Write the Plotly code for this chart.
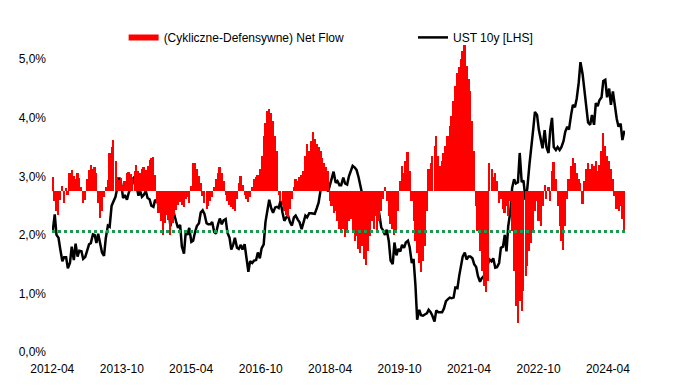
import pandas as pd
import plotly.graph_objects as go

# Semi-monthly observation dates (1st and 15th of each month)
DATES = pd.date_range("2012-03-15", "2024-10-01", freq="SMS")

# UST 10y yield, % (left axis)
UST_10Y = [
    # 2012 (from Mar 15)
    2.05, 2.35, 2.00, 1.95, 1.76, 1.55, 1.62, 1.62, 1.43, 1.52, 1.80, 1.57, 1.85, 1.63, 1.73, 1.72, 1.59, 1.62, 1.72,
    # 2013
    1.84, 1.86, 2.01, 2.00, 1.86, 2.02, 1.85, 1.70, 1.64, 1.94, 2.16, 2.14, 2.50, 2.56, 2.65, 2.80, 2.98, 2.88, 2.63, 2.68, 2.60, 2.72, 2.80, 2.88,
    # 2014
    3.00, 2.87, 2.67, 2.75, 2.65, 2.68, 2.75, 2.63, 2.61, 2.50, 2.48, 2.60, 2.56, 2.52, 2.50, 2.38, 2.38, 2.60, 2.42, 2.15, 2.33, 2.35, 2.22, 2.12,
    # 2015
    2.17, 1.80, 1.68, 2.05, 2.00, 2.12, 1.88, 1.90, 2.05, 2.15, 2.20, 2.38, 2.42, 2.36, 2.20, 2.18, 2.18, 2.22, 2.05, 2.02, 2.18, 2.28, 2.18, 2.25,
    # 2016
    2.27, 2.04, 1.95, 1.75, 1.83, 1.95, 1.78, 1.76, 1.83, 1.75, 1.84, 1.58, 1.37, 1.55, 1.52, 1.56, 1.57, 1.70, 1.60, 1.77, 1.84, 2.22, 2.45, 2.60,
    # 2017
    2.45, 2.38, 2.47, 2.48, 2.46, 2.58, 2.38, 2.24, 2.30, 2.33, 2.21, 2.16, 2.30, 2.33, 2.26, 2.22, 2.10, 2.20, 2.33, 2.30, 2.37, 2.37, 2.37, 2.36,
    # 2018
    2.46, 2.55, 2.78, 2.90, 2.86, 2.82, 2.74, 2.83, 2.97, 3.08, 2.89, 2.92, 2.85, 2.85, 2.98, 2.88, 2.86, 3.00, 3.08, 3.18, 3.15, 3.11, 2.99, 2.87,
    # 2019
    2.68, 2.71, 2.69, 2.66, 2.72, 2.60, 2.45, 2.56, 2.50, 2.38, 2.13, 2.08, 2.00, 2.09, 1.89, 1.56, 1.50, 1.87, 1.65, 1.76, 1.72, 1.83, 1.78, 1.87,
    # 2020
    1.90, 1.79, 1.52, 1.59, 1.15, 0.55, 0.72, 0.63, 0.62, 0.64, 0.66, 0.72, 0.68, 0.62, 0.52, 0.71, 0.68, 0.68, 0.68, 0.74, 0.87, 0.90, 0.93, 0.92,
    # 2021
    0.93, 1.10, 1.09, 1.30, 1.45, 1.63, 1.70, 1.58, 1.63, 1.63, 1.60, 1.50, 1.45, 1.30, 1.20, 1.26, 1.30, 1.30, 1.49, 1.58, 1.55, 1.60, 1.44, 1.45,
    # 2022
    1.52, 1.78, 1.80, 2.00, 1.72, 2.15, 2.40, 2.80, 2.95, 2.88, 2.90, 3.40, 2.90, 2.93, 2.60, 2.80, 3.20, 3.45, 3.80, 4.10, 4.05, 3.80, 3.60, 3.48,
    # 2023
    3.79, 3.50, 3.40, 3.80, 4.00, 3.50, 3.45, 3.50, 3.45, 3.50, 3.60, 3.76, 3.85, 3.80, 4.05, 4.22, 4.18, 4.33, 4.60, 4.95, 4.75, 4.45, 4.22, 3.92,
    # 2024 (to Oct 1)
    3.88, 4.05, 3.88, 4.25, 4.20, 4.30, 4.35, 4.63, 4.65, 4.35, 4.50, 4.22, 4.45, 4.20, 3.98, 3.85, 3.90, 3.62, 3.78,
]

# (Cykliczne-Defensywne) net flow, arbitrary units (hidden right axis)
NET_FLOW = [
    14, -10, -20, -24, -9, 5, -12, 3, -4, 18, 21, 15, 12, 18, 13, 4, -12, -9, 12, 21,
    26, 22, 24, 18, -12, -27, -20, -6, 4, 11, 38, 44, 51, 30, 14, 11, 13, 6, 10, 18,
    19, 17, 14, 20, 26, 20, 18, 22, 24, 21, 25, 31, 33, 34, 16, -12, -22, -30, -44, -32,
    -24, -29, -44, -32, -24, -19, -14, -11, -14, -16, -8, -6, -12, 5, 28,
    28, 22, 15, 8, -5, -12, -18, -15, -10, -6,
    4, 12, 18, 24, 18, 10, -4, -10, -14, -16,
    -18, -20, -8, 8, 15, 6, -4, -8, -11, -6,
    4, 12, 14, 16, 22, 35, 55, 68, 80, 82,
    78, 70, 55, 40, -4, -10, -14, -20, -24, -26,
    -18, -8, 4, 12, 10, 14, 16, 20, 35, 47,
    40, 50, 59, 52, 47, 44, 40, 33, 28, 24,
    20, -10, -15, -22, -20, -30, -38, -42, -38, -46,
    -40,
    -30, -28, -40, -50, -45, -58, -62, -55, -68, -74,
    -60, -45, -30, -38, -25, -42, -30, -20, -8, 4,
    -10, -25, -33, -38, -44, -42, -20, 10, 25, 18,
    30, 39, 20, -10, -30, -50, -62, -72, -81, -70,
    -55, -20, 22, 28, 35, 45, 55, 35, 25, 30,
    38, 45, 55, 65, 75, 90, 105, 118, 124, 132,
    140, 146, 125, 112, 100, 70, 40, -15, -40, -60,
    -80, -95, -101,
    -90, 28, 22, 14, 18, 10, -12, -8, -18, -22,
    -15, -25, -10, -40, -80, -115, -132, -110, -120, -100,
    -85, -75, -60, -52, -40, -20, -10, -30, -35, -15,
    6, -8, 4, -10, 20, 29, 12, -15, -35, -50,
    -59, -35, -8, 12, 25, 33, 28, 18, 12, 8,
    -13, 10, 22, 28, 22, 27, 25, 30, 20, 26,
    40, 58, 45, 35, 30, 22, 12, -5, -18, -20,
    -15, -28, -39,
]

THRESHOLD = 2.06  # green dotted reference level, %

TICK_DATES = ["2012-03-12", "2013-09-21", "2015-03-30", "2016-10-08", "2018-04-17",
              "2019-10-26", "2021-05-04", "2022-11-13", "2024-05-22"]
TICK_LABELS = ["2012-04", "2013-10", "2015-04", "2016-10", "2018-04",
               "2019-10", "2021-04", "2022-10", "2024-04"]
Y_TICKS = [0, 1, 2, 3, 4, 5]
Y_TICK_LABELS = ["0,0%", "1,0%", "2,0%", "3,0%", "4,0%", "5,0%"]

assert len(DATES) == len(UST_10Y) == len(NET_FLOW), (len(DATES), len(UST_10Y), len(NET_FLOW))

FONT = "Liberation Sans, Arial, sans-serif"
DAY_MS = 86400000

fig = go.Figure()
fig.add_trace(go.Bar(
    x=DATES, y=NET_FLOW, yaxis="y2", width=16 * DAY_MS,
    marker=dict(color="#FF0000", line=dict(width=0)),
    showlegend=False, name="(Cykliczne-Defensywne) Net Flow",
))
# legend entry for the bars (wide red swatch, as in the original)
fig.add_trace(go.Scatter(
    x=[None], y=[None], mode="lines", line=dict(color="#FF0000", width=6),
    name="(Cykliczne-Defensywne) Net Flow", legend="legend",
))
fig.add_trace(go.Scatter(
    x=DATES, y=UST_10Y, mode="lines", line=dict(color="#000000", width=2.5),
    name="UST 10y [LHS]", legend="legend2",
))

fig.add_shape(type="line", xref="paper", x0=0, x1=1, yref="y", y0=THRESHOLD, y1=THRESHOLD,
              line=dict(color="#1a9a50", width=3, dash="dot"))

legend_common = dict(orientation="h", yanchor="middle", y=0.977, xanchor="left",
                     bgcolor="rgba(0,0,0,0)", borderwidth=0,
                     font=dict(family=FONT, size=12, color="#000000"))

fig.update_layout(
    width=666, height=380,
    margin=dict(l=44, r=49, t=22, b=36),
    paper_bgcolor="white", plot_bgcolor="white",
    font=dict(family=FONT, size=12, color="#000000"),
    bargap=0,
    legend=dict(x=0.125, **legend_common),
    legend2=dict(x=0.630, **legend_common),
    xaxis=dict(type="date", range=["2012-03-10", "2024-10-06"],
               tickvals=TICK_DATES, ticktext=TICK_LABELS,
               showgrid=False, zeroline=False, showline=False, ticks="",
               ticklabelstandoff=8, tickfont=dict(size=12, color="#000000")),
    yaxis=dict(range=[0, 5.5], tickvals=Y_TICKS, ticktext=Y_TICK_LABELS,
               showgrid=False, zeroline=False, showline=False, ticks="",
               ticklabelstandoff=5, tickfont=dict(size=12, color="#000000")),
    yaxis2=dict(overlaying="y", side="right", range=[-161.2, 161.2], visible=False),
)

fig.write_html("out.html")
